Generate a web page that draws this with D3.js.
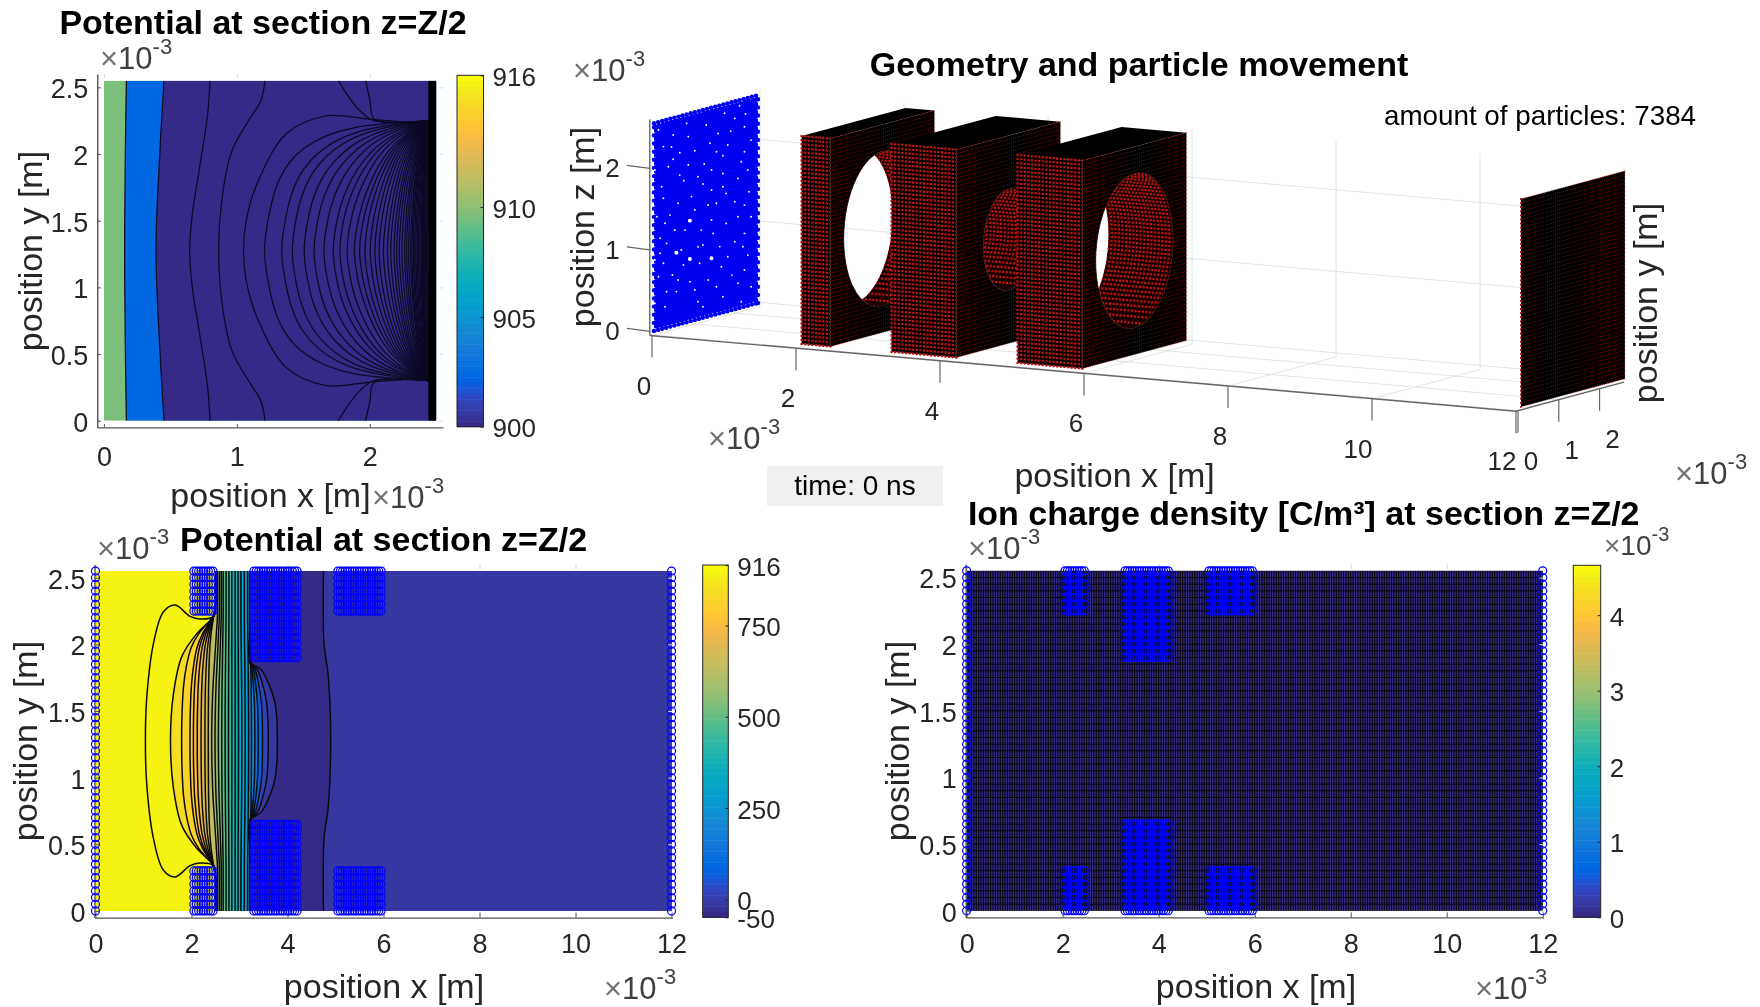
<!DOCTYPE html>
<html>
<head>
<meta charset="utf-8">
<script src="https://cdn.jsdelivr.net/npm/d3@7"></script>
<style>
  body { margin: 0; background: #fff; }
  svg { display: block; font-family: "Liberation Sans", Arial, sans-serif; filter: blur(0.45px); }
</style>
</head>
<body>
<svg id="chart" width="1760" height="1007"></svg>
<script>
// colormap
const parula = [[.2081,.1663,.5292],[.2116,.1898,.5777],[.2123,.2138,.6270],[.2081,.2386,.6771],[.1959,.2645,.7279],[.1707,.2919,.7792],[.1253,.3242,.8303],[.0591,.3598,.8683],[.0117,.3875,.8820],[.0060,.4086,.8828],[.0165,.4266,.8786],[.0329,.4430,.8720],[.0498,.4586,.8641],[.0629,.4737,.8554],[.0723,.4887,.8467],[.0779,.5040,.8384],[.0793,.5200,.8312],[.0749,.5375,.8263],[.0641,.5570,.8240],[.0488,.5772,.8228],[.0343,.5966,.8199],[.0265,.6137,.8135],[.0239,.6287,.8038],[.0231,.6418,.7913],[.0228,.6535,.7768],[.0267,.6642,.7607],[.0384,.6743,.7436],[.0590,.6838,.7254],[.0843,.6928,.7062],[.1133,.7015,.6859],[.1453,.7098,.6646],[.1801,.7177,.6424],[.2178,.7250,.6193],[.2586,.7317,.5954],[.3022,.7376,.5712],[.3482,.7424,.5473],[.3953,.7459,.5244],[.4420,.7481,.5033],[.4871,.7491,.4840],[.5300,.7491,.4661],[.5709,.7485,.4494],[.6099,.7473,.4337],[.6473,.7456,.4188],[.6834,.7435,.4044],[.7184,.7411,.3905],[.7525,.7384,.3768],[.7858,.7356,.3633],[.8185,.7327,.3498],[.8507,.7299,.3360],[.8824,.7274,.3217],[.9139,.7258,.3063],[.9450,.7261,.2886],[.9739,.7314,.2666],[.9938,.7455,.2403],[.9990,.7653,.2164],[.9955,.7861,.1967],[.9880,.8066,.1794],[.9789,.8271,.1633],[.9697,.8481,.1475],[.9626,.8705,.1309],[.9589,.8949,.1132],[.9598,.9218,.0948],[.9661,.9514,.0755],[.9763,.9831,.0538]];

// tick labels
const ticksAperture = [0, 1, 2];
const ticksY = [0, 0.5, 1, 1.5, 2, 2.5];
const ticksLong = [0, 2, 4, 6, 8, 10, 12];
const ticksZ3d = [0, 1, 2];
const ticksY3d = [0, 1, 2];
const colorTicksTop = [900, 905, 910, 916];
const colorTicksPot = [-50, 0, 250, 500, 750, 916];
const colorTicksRho = [0, 1, 2, 3, 4];

// geometry, in units of 1e-3 m
const Y_MAX = 2.55;
const electrodeStart = [2.05, 3.3, 5.05];
const electrodeEnd = [2.45, 4.2, 5.95];
const electrodeGapLow = [0.3, 0.65, 0.3];
const electrodeGapHigh = [2.25, 1.9, 2.25];
const holeRadius = [0.95, 0.62, 0.95];

// potential near the first aperture, contours read top half, top -> apex
const apertureContours = [
  [[.169,2.55],[.16,1.9],[.156,1.275]],
  [[.452,2.55],[.42,2.0],[.392,1.275]],
  [[.798,2.55],[.78,2.3],[.72,1.9],[.665,1.55],[.645,1.275]],
  [[1.212,2.55],[1.18,2.4],[1.1,2.27],[.965,2.03],[.9,1.75],[.863,1.275]],
  [[2.44,2.25],[2.31,2.24],[2.01,2.26],[1.664,2.285],[1.37,2.15],[1.153,1.78],[1.07,1.5],[1.05,1.275]]
];
const apertureBase = 909.6;
const apertureBandLevels = [902.4, 900];
const apertureElectrodeLines = [
  [[1.763,2.55],[1.84,2.43],[1.92,2.33],[2.03,2.25],[2.44,2.25]],
  [[1.968,2.55],[2.0,2.405],[2.035,2.26],[2.44,2.25]]
];
const apertureApex = [1.2,1.33,1.41,1.5,1.575,1.65,1.72,1.77,1.825,1.88,1.92,1.96,2.0,2.035,2.067,2.1,2.13,2.155,2.18,2.2,2.22,2.24,2.26,2.275,2.29,2.305,2.315,2.325,2.335,2.345,2.355,2.365,2.375,2.385,2.39,2.395,2.4,2.405,2.41,2.415,2.42,2.425,2.43,2.435];
const fanU = [0,.02,.07,.15,.25,.38,.54,.75,1];
const fanOuterV = [0,.2,.5,.68,.8,.89,.95,.98,1];
const fanInnerV = [0,.12,.27,.42,.56,.7,.82,.92,1];

// potential along the whole channel
const lobeContour = [[2.52,2.55],[2.5,2.3],[2.46,2.21],[2.18,2.19],[1.97,2.21],[1.66,2.295],[1.417,2.245],[1.21,2.01],[1.07,1.61],[1.04,1.275]];
const secondContour = [[2.52,2.55],[2.5,2.3],[2.46,2.21],[2.11,2.08],[1.8,1.91],[1.625,1.63],[1.5625,1.275]];
const farContour = [[4.75,2.55],[4.76,2.01],[4.85,1.76],[4.9,1.275]];
const lensLeftApex = [1.795,1.969,2.04,2.12,2.2,2.28,2.35];
const lensLeftU = [0,.01,.06,.15,.3,.53,.75,1];
const lensLeftV = [0,.2,.44,.6,.75,.86,.93,1];
const channelApex = [2.42,2.49,2.56,2.63,2.7,2.77,2.84,2.91,2.98,3.05,3.12,3.19,3.25];
const channelTop = [2.54,2.58,2.62,2.66,2.72,2.78,2.84,2.91,2.97,3.03,3.1,3.17,3.22];
const channelRows = [2.55,2.21,2.1,1.9,1.7,1.5,1.275];
const channelWeight = [1,1,.85,.55,.25,.08,0];
const lensRightApex = [3.32,3.39,3.48,3.6,3.79];
const lensRightU = [0,.09,.33,.6,1];
const lensRightV = [0,.48,.73,.9,1];
const potentialBase = 905;
const potentialLevels = [895,860,825,790,760,730,700,670,640,605,570,535,500,465,430,395,360,325,290,255,220,185,130,70,10,-25,-50,-25];

// gaps in the particle sheet as [y, z]
const particleGapsLarge = [[.88,1.234],[.55,.886],[.88,.764],[1.41,.702]];
const particleGapsSmall = [[.15,1.117],[1.23,1.883],[1.69,1.923],[2.1,2.482],[.47,2.341],[.63,2.102],[1,2.077],[.47,2.043],[1.88,2.2],[1.98,2.342],[2.24,2.361],[1.98,1.319],[2.33,1.395],[.63,1.828],[1.08,1.747],[.73,1.746],[.19,1.745],[.23,1.597],[1.2,1.642],[.39,1.37],[.51,1.171],[1.2,.893],[.31,1.033],[2.18,.74],[2.3,.622],[1.77,1.082],[1.98,.828],[.45,.626],[.88,.486],[1.91,.429],[.31,.44],[.55,.409],[1.08,.214],[1.2,.136],[2.14,.071],[1.53,1.994],[2.22,1.9],[2.06,1.595],[1.53,1.361],[1,1.35],[.76,1.136],[1.45,1.002],[1.81,.666],[1.33,.447],[.11,.652],[.15,.934],[.8,2.44],[1.28,2.355],[.43,2.2],[1.69,1.705],[1.41,1.54],[2.38,2.022],
  [.02,.338],[.27,.261],[.59,.546],[.72,.714],[1,.368],[1.53,.337],[1.69,.193],[2.06,.308],[2.38,.222],[2.22,.449],[1.65,.566],[1.12,.68],[.23,.8],[.02,.869],[.67,.903],[1.08,.889],[1.61,.819],[2.22,.899],[2.38,1.081],[2.06,1.124],[1.41,1.172],[1.16,1.082],[.27,1.285],[.07,1.393],[.59,1.487],[.92,1.525],[1.33,1.367],[1.77,1.45],[2.22,1.246],[1.69,1.543],[.02,1.973],[.35,1.968],[.84,1.924],[1.41,1.785],[2.3,1.665],[2.14,1.789],[1.81,2.038],[1.37,2.118],[.84,2.272],[.23,2.231],[.11,2.452],[1.57,2.213],[2.22,2.207],[1.73,2.438]];

const INK = "#262626";
const svg = d3.select("#chart");
const parulaColor = t => {
  const c = parula[Math.max(0, Math.min(63, Math.round(t * 63)))];
  return d3.rgb(c[0] * 255, c[1] * 255, c[2] * 255).formatHex();
};

function addText(x, y, str, size, opts = {}) {
  const t = svg.append("text")
    .attr("x", x).attr("y", y)
    .attr("font-size", size)
    .attr("text-anchor", opts.anchor || "middle")
    .attr("dominant-baseline", "central")
    .attr("fill", opts.fill || INK)
    .text(str);
  if (opts.bold) t.attr("font-weight", "bold");
  if (opts.rotate) t.attr("transform", `rotate(${opts.rotate},${x},${y})`);
  return t;
}
const addTitle = (x, y, str) => addText(x, y, str, 34, { bold: true, fill: "#000" });
const addLabel = (x, y, str, rotate) => addText(x, y, str, 34, { rotate });

// the little x10^-3 tag matlab puts on axes
function addExponent(x, y, size = 31) {
  const t = svg.append("text").attr("x", x).attr("y", y)
    .attr("font-size", size).attr("dominant-baseline", "central").attr("fill", "#404040");
  t.append("tspan").text("×").attr("fill", "#707070");
  t.append("tspan").text("10");
  t.append("tspan").text("-3").attr("font-size", size * 0.71).attr("dy", -size * 0.39);
}

function styleAxis(g, color, size, labelShift = 0) {
  g.select(".domain").attr("stroke", color).attr("stroke-width", 1.4);
  g.selectAll(".tick line").attr("stroke", color);
  g.selectAll(".tick text").attr("fill", INK).attr("font-size", size)
    .attr("transform", `translate(0,${labelShift})`);
  g.attr("font-family", null);
}

function drawAxes(x, y, xTicks, yTicks, tick, xPad = 16) {
  const top = y.range()[1], right = x.range()[1], left = x.range()[0], bottom = y.range()[0];
  svg.append("g").attr("transform", `translate(0,${top})`)
    .call(d3.axisBottom(x).tickValues(xTicks).tickSize(tick).tickFormat(""))
    .call(g => g.select(".domain").remove())
    .call(g => g.selectAll("line").attr("stroke", "#d8d8d8"));
  svg.append("g").attr("transform", `translate(${right},0)`)
    .call(d3.axisRight(y).tickValues(yTicks).tickSize(-tick).tickFormat(""))
    .call(g => g.select(".domain").remove())
    .call(g => g.selectAll("line").attr("stroke", "#d8d8d8"));
  const gx = svg.append("g").attr("transform", `translate(0,${bottom})`)
    .call(d3.axisBottom(x).tickValues(xTicks).tickFormat(String).tickSizeInner(-tick).tickSizeOuter(0).tickPadding(xPad));
  const gy = svg.append("g").attr("transform", `translate(${left},0)`)
    .call(d3.axisLeft(y).tickValues(yTicks).tickFormat(String).tickSizeInner(-tick).tickSizeOuter(0).tickPadding(9));
  styleAxis(gx, "#555", 27);
  styleAxis(gy, "#555", 27, 1.8);
}

function drawColorbar(x0, x1, scale, ticks) {
  const [lo, hi] = scale.domain();
  const step = (hi - lo) / parula.length;
  const g = svg.append("g");
  g.selectAll("rect").data(parula).enter().append("rect")
    .attr("x", x0).attr("width", x1 - x0)
    .attr("y", (d, i) => scale(lo + (i + 1) * step))
    .attr("height", Math.abs(scale(lo) - scale(lo + step)) + 0.5)
    .attr("fill", (d, i) => parulaColor(i / 63));
  g.append("rect").attr("x", x0).attr("y", scale(hi))
    .attr("width", x1 - x0).attr("height", scale(lo) - scale(hi))
    .attr("fill", "none").attr("stroke", INK).attr("stroke-width", 1);
  const ax = svg.append("g").attr("transform", `translate(${x1},0)`)
    .call(d3.axisRight(scale).tickValues(ticks).tickFormat(String).tickSizeInner(-3).tickSizeOuter(0).tickPadding(9));
  ax.select(".domain").remove();
  styleAxis(ax, INK, 26, 1.8);
}

const mirror = half => [...half, ...half.slice(0, -1).reverse().map(([a, b]) => [a, Y_MAX - b])];

function clipField(id, x, y, xMax) {
  svg.append("clipPath").attr("id", id).append("rect")
    .attr("x", x(0)).attr("y", y(Y_MAX))
    .attr("width", x(xMax) - x(0)).attr("height", y(0) - y(Y_MAX));
  return svg.append("g").attr("clip-path", `url(#${id})`);
}

// blue rings on every mesh node of the electrodes and end plates
function drawElectrodeNodes(x, y) {
  const nodes = [];
  electrodeStart.forEach((x0, i) => {
    d3.range(x0, electrodeEnd[i] + 0.01, 0.05).forEach(px => {
      d3.range(0, Y_MAX + 0.01, 0.05).forEach(py => {
        if (py <= electrodeGapLow[i] + 0.01 || py >= electrodeGapHigh[i] - 0.01) nodes.push([px, py]);
      });
    });
  });
  [0, 12].forEach(px => d3.range(0, Y_MAX + 0.01, 0.05).forEach(py => nodes.push([px, py])));
  svg.append("g").selectAll("circle").data(nodes).enter().append("circle")
    .attr("cx", d => x(d[0])).attr("cy", d => y(d[1])).attr("r", 4)
    .attr("fill", "none").attr("stroke", "#0000ff").attr("stroke-width", 1.2);
}

/* ---------- top left: potential at aperture ---------- */
{
  const x = d3.scaleLinear([-0.05, 2.55], [97.25, 443]);
  const y = d3.scaleLinear([-0.05, 2.6], [427.4, 74]);
  const color = d3.scaleLinear([900, 916], [0, 1]);
  const line = d3.line().x(d => x(d[0])).y(d => y(d[1])).curve(d3.curveCatmullRom);
  const smooth = d3.line().x(d => x(d[0])).y(d => y(d[1])).curve(d3.curveBasis);
  const g = clipField("clipA", x, y, 2.5);
  g.append("rect").attr("x", x(0)).attr("y", y(Y_MAX))
    .attr("width", x(2.5) - x(0)).attr("height", y(0) - y(Y_MAX))
    .attr("fill", parulaColor(color(apertureBase)));
  apertureBandLevels.forEach((lvl, i) => {
    g.append("path").attr("fill", parulaColor(color(lvl)))
      .attr("d", line(mirror(apertureContours[i])) + `L${x(2.5)},${y(0)}L${x(2.5)},${y(Y_MAX)}Z`);
  });
  const fanLine = a => {
    const t = Math.max(0, Math.min(1, (a - 1.2) / 0.7));
    const fx = Math.max(2.44, a + 0.04);
    const half = fanU.map((u, i) => [a + u * (fx - a), 1.275 + (fanOuterV[i] * (1 - t) + fanInnerV[i] * t) * 0.975]).reverse();
    return mirror(half);
  };
  const lines = [
    ...apertureContours.map(mirror),
    ...apertureElectrodeLines.map(h => h),
    ...apertureElectrodeLines.map(h => h.map(([a, b]) => [a, Y_MAX - b]))
  ];
  g.append("g").selectAll("path").data(lines).enter().append("path")
    .attr("d", line).attr("fill", "none").attr("stroke", "#0c0a24").attr("stroke-width", 1.25);
  g.append("g").selectAll("path").data(apertureApex.map(fanLine)).enter().append("path")
    .attr("d", smooth).attr("fill", "none").attr("stroke", "#0c0a24").attr("stroke-width", 1.25);
  g.append("rect").attr("x", x(2.44)).attr("y", y(Y_MAX))
    .attr("width", x(2.5) - x(2.44)).attr("height", y(0) - y(Y_MAX)).attr("fill", "#000");

  drawAxes(x, y, ticksAperture, ticksY, 3.5, 19);
  drawColorbar(457, 483.5, d3.scaleLinear([900, 916], [426.7, 75.3]), colorTicksTop);
  addTitle(263, 22, "Potential at section z=Z/2");
  addExponent(100, 58);
  addExponent(372, 497);
  addLabel(270.5, 495, "position x [m]");
  addLabel(30, 251, "position y [m]", -90);
}

/* ---------- bottom left: potential along channel ---------- */
{
  const x = d3.scaleLinear([-0.02, 12.02], [94.5, 672.5]);
  const y = d3.scaleLinear([-0.05, 2.6], [917.6, 564.4]);
  const color = d3.scaleLinear([-50, 916], [0, 1]);
  const line = d3.line().x(d => x(d[0])).y(d => y(d[1])).curve(d3.curveCatmullRom);
  const g = clipField("clipB", x, y, 12);
  g.append("rect").attr("x", x(0)).attr("y", y(Y_MAX))
    .attr("width", x(12) - x(0)).attr("height", y(0) - y(Y_MAX))
    .attr("fill", parulaColor(color(potentialBase)));

  const lensLeft = a => {
    const half = lensLeftU.map((u, i) => [a + u * (2.46 - a), 1.275 + lensLeftV[i] * 0.935]).reverse();
    return mirror([[2.52, 2.55], [2.5, 2.3], ...half]);
  };
  const lensRight = a => {
    const half = lensRightU.map((u, i) => [a - u * (a - 3.22), 1.275 + lensRightV[i] * 0.595]).reverse();
    return mirror([[3.22, 2.55], [3.22, 2.1], ...half]);
  };
  const channelLine = (a, i) => mirror(channelRows.map((r, k) => [a + (channelTop[i] - a) * channelWeight[k], r]));
  const contours = [
    mirror(lobeContour),
    mirror(secondContour),
    ...lensLeftApex.map(lensLeft),
    ...channelApex.map(channelLine),
    ...lensRightApex.map(lensRight),
    mirror(farContour)
  ];
  // painted left to right so every band covers what lies right of its contour
  contours.forEach((pts, i) => {
    g.append("path").attr("fill", parulaColor(color(potentialLevels[i])))
      .attr("d", line(pts) + `L${x(12)},${y(0)}L${x(12)},${y(Y_MAX)}Z`);
  });
  g.append("g").selectAll("path").data(contours).enter().append("path")
    .attr("d", line).attr("fill", "none").attr("stroke", "#0a0a0a").attr("stroke-width", 1.5);

  drawAxes(x, y, ticksLong, ticksY, 5);
  drawElectrodeNodes(x, y);
  drawColorbar(702.7, 728.3, d3.scaleLinear([-50, 916], [917.3, 565]), colorTicksPot);
  addTitle(383.5, 539, "Potential at section z=Z/2");
  addExponent(97, 548);
  addExponent(604, 988);
  addLabel(384, 986, "position x [m]");
  addLabel(25, 741, "position y [m]", -90);
}

/* ---------- bottom right: ion charge density ---------- */
{
  const x = d3.scaleLinear([-0.02, 12.02], [965.7, 1543.7]);
  const y = d3.scaleLinear([-0.05, 2.6], [917.4, 564.2]);
  const g = clipField("clipC", x, y, 12);
  g.append("rect").attr("x", x(0)).attr("y", y(Y_MAX))
    .attr("width", x(12) - x(0)).attr("height", y(0) - y(Y_MAX))
    .attr("fill", parulaColor(0));
  // zero field: the contour plot degenerates to the mesh itself
  g.append("g").selectAll("line").data(d3.range(0, 12.01, 0.05)).enter().append("line")
    .attr("x1", d => x(d)).attr("x2", d => x(d)).attr("y1", y(0)).attr("y2", y(Y_MAX))
    .attr("stroke", "#000").attr("stroke-width", 0.95);
  g.append("g").selectAll("line").data(d3.range(0, Y_MAX + 0.01, 0.05)).enter().append("line")
    .attr("x1", x(0)).attr("x2", x(12)).attr("y1", d => y(d)).attr("y2", d => y(d))
    .attr("stroke", "#000").attr("stroke-width", 1);

  drawAxes(x, y, ticksLong, ticksY, 5);
  drawElectrodeNodes(x, y);
  drawColorbar(1573.3, 1600.7, d3.scaleLinear([0, 4.66], [917.3, 565.3]), colorTicksRho);
  addTitle(1303.7, 512.5, "Ion charge density [C/m³] at section z=Z/2");
  addExponent(968, 548);
  addExponent(1475, 988);
  addExponent(1604, 545, 28);
  addLabel(1256, 986, "position x [m]");
  addLabel(897, 741, "position y [m]", -90);
}

/* ---------- top right: 3d geometry ---------- */
{
  const sxX = d3.scaleLinear([0, 12], [654, 1518]);
  const sxY = d3.scaleLinear([0, 12], [331, 406.6]);
  const syX = d3.scaleLinear([0, 2.55], [0, 104]);
  const syY = d3.scaleLinear([0, 2.55], [0, -28]);
  const szY = d3.scaleLinear([0, 1], [0, -81.5]);
  const project = (px, py, pz) => [sxX(px) + syX(py), sxY(px) + syY(py) + szY(pz)];
  const poly = pts => "M" + pts.map(p => project(...p).map(v => v.toFixed(2)).join(",")).join("L") + "Z";
  const LO = -0.05, YTOP = 2.6, ZTOP = 2.6, PLATE_X = 12.04;
  const mesh = d3.range(0, Y_MAX + 0.01, 0.05);
  const dots = pts => pts.map(p => { const [a, b] = project(...p); return `M${a.toFixed(1)},${b.toFixed(1)}h.01`; }).join("");

  // grid
  const gridLines = [];
  ticksLong.forEach(v => {
    gridLines.push([[v, LO, LO], [v, YTOP, LO]], [[v, YTOP, LO], [v, YTOP, ZTOP]]);
  });
  ticksY3d.forEach(v => {
    gridLines.push([[-0.03, v, LO], [12, v, LO]], [[-0.03, v, LO], [-0.03, v, ZTOP]]);
  });
  ticksZ3d.forEach(v => {
    gridLines.push([[-0.03, YTOP, v], [12, YTOP, v]], [[-0.03, LO, v], [-0.03, YTOP, v]]);
  });
  svg.append("g").selectAll("line").data(gridLines).enter().append("line")
    .attr("x1", d => project(...d[0])[0]).attr("y1", d => project(...d[0])[1])
    .attr("x2", d => project(...d[1])[0]).attr("y2", d => project(...d[1])[1])
    .attr("stroke", "#e4e4e4").attr("stroke-width", 1);

  // axis lines + ticks
  const axisLines = [
    [[-0.03, LO, LO], [12, LO, LO]],
    [[12, LO, LO], [12, YTOP, LO]],
    [[-0.03, LO, LO], [-0.03, LO, ZTOP]]
  ];
  svg.append("g").selectAll("line").data(axisLines).enter().append("line")
    .attr("x1", d => project(...d[0])[0]).attr("y1", d => project(...d[0])[1])
    .attr("x2", d => project(...d[1])[0]).attr("y2", d => project(...d[1])[1])
    .attr("stroke", "#666").attr("stroke-width", 1.4);
  const tickLine = (a, dx, dy) => svg.append("line")
    .attr("x1", a[0]).attr("y1", a[1]).attr("x2", a[0] + dx).attr("y2", a[1] + dy)
    .attr("stroke", "#666").attr("stroke-width", 1.2);
  ticksLong.forEach(v => {
    const p = project(v, LO, LO);
    tickLine(p, 0, 22);
    addText(p[0] - (v < 10 ? 8 : 14), p[1] + 50, v, 26);
  });
  ticksY3d.forEach(v => {
    const p = project(12, v, LO);
    tickLine(p, 0, 22);
    addText(p[0] + 13, p[1] + 50, v, 26);
  });
  ticksZ3d.forEach(v => {
    const p = project(-0.03, LO, v);
    tickLine(p, -23, -3);
    addText(p[0] - 30, p[1], v, 26, { anchor: "end" });
  });

  // particle sheet: solid inside, coarser beads along the rim so the edge stays bumpy
  const sheet = [];
  const inner = mesh.slice(1, -1);
  inner.forEach(py => inner.forEach(pz => sheet.push([0, py, pz])));
  d3.range(0, Y_MAX + 0.01, 0.1).forEach(v => {
    sheet.push([0, v, 0], [0, v, Y_MAX], [0, 0, v], [0, Y_MAX, v]);
  });
  svg.append("path").attr("d", dots(sheet)).attr("fill", "none")
    .attr("stroke", "#0000f0").attr("stroke-width", 4.4).attr("stroke-linecap", "round");
  const gapPath = (list, w) => svg.append("path")
    .attr("d", dots(list.map(([py, pz]) => [0, py, pz]))).attr("fill", "none")
    .attr("stroke", "#fff").attr("stroke-width", w).attr("stroke-linecap", "round");
  gapPath(particleGapsSmall, 1.9);
  gapPath(particleGapsLarge, 4);

  // electrodes, back to front as seen from +x
  const RED = "#b81414";
  const circle = (px, r) => d3.range(0, 361, 6).map(a => {
    const t = a * Math.PI / 180;
    return [px, 1.275 + r * Math.cos(t), 1.275 + r * Math.sin(t)];
  });
  electrodeStart.forEach((lo, i) => {
    const hi = electrodeEnd[i], r = holeRadius[i];
    const xMesh = d3.range(lo, hi + 0.01, 0.05);
    const g = svg.append("g");
    g.append("path").attr("fill", "#000")
      .attr("d", poly([[lo, 0, Y_MAX], [hi, 0, Y_MAX], [hi, Y_MAX, Y_MAX], [lo, Y_MAX, Y_MAX]]));
    g.append("path").attr("fill", "#000")
      .attr("d", poly([[lo, 0, 0], [hi, 0, 0], [hi, 0, Y_MAX], [lo, 0, Y_MAX]]));
    const front = [];
    xMesh.forEach(px => mesh.forEach(pz => front.push([px, 0, pz])));
    g.append("path").attr("d", dots(front)).attr("stroke", RED).attr("stroke-width", 2.3)
      .attr("stroke-linecap", "square").attr("fill", "none");

    // side face with the round hole
    const frontRing = poly(circle(hi, r));
    const backRing = poly(circle(lo, r));
    g.append("path").attr("fill", "#000").attr("fill-rule", "evenodd")
      .attr("d", poly([[hi, 0, 0], [hi, Y_MAX, 0], [hi, Y_MAX, Y_MAX], [hi, 0, Y_MAX]]) + frontRing);
    const side = [];
    mesh.forEach(py => mesh.forEach(pz => {
      if (Math.hypot(py - 1.275, pz - 1.275) > r) side.push([hi, py, pz]);
    }));
    g.append("path").attr("d", dots(side)).attr("stroke", "#a01010").attr("stroke-width", 0.7)
      .attr("stroke-linecap", "square").attr("fill", "none");

    // inside wall of the hole = front ring minus back ring
    const defs = svg.append("defs");
    defs.append("clipPath").attr("id", `ring${i}`).append("path").attr("d", frontRing);
    defs.append("clipPath").attr("id", `wall${i}`).append("path").attr("d", frontRing + backRing)
      .attr("clip-rule", "evenodd");
    const wall = g.append("g").attr("clip-path", `url(#ring${i})`).append("g").attr("clip-path", `url(#wall${i})`);
    wall.append("path").attr("fill", "#1a0000").attr("d", frontRing + backRing).attr("fill-rule", "evenodd");
    const wallDots = [];
    xMesh.forEach(px => mesh.forEach(pz => {
      const dz = pz - 1.275;
      if (Math.abs(dz) < r) wallDots.push([px, 1.275 + Math.sqrt(r * r - dz * dz), pz], [px, 1.275 - Math.sqrt(r * r - dz * dz), pz]);
    }));
    wall.append("path").attr("d", dots(wallDots)).attr("stroke", RED).attr("stroke-width", 2.2)
      .attr("stroke-linecap", "square").attr("fill", "none");
    g.append("path").attr("d", frontRing).attr("fill", "none").attr("stroke", "#120000").attr("stroke-width", 0.8);
  });

  // collector plate
  svg.append("path").attr("fill", "#000")
    .attr("d", poly([[PLATE_X, 0, 0], [PLATE_X, Y_MAX, 0], [PLATE_X, Y_MAX, Y_MAX], [PLATE_X, 0, Y_MAX]]));
  const plate = [];
  mesh.forEach(py => mesh.forEach(pz => plate.push([PLATE_X, py, pz])));
  svg.append("path").attr("d", dots(plate)).attr("stroke", "#a01010").attr("stroke-width", 0.7)
    .attr("stroke-linecap", "square").attr("fill", "none");
  svg.append("path").attr("d", dots(mesh.map(pz => [PLATE_X, 0, pz]))).attr("stroke", RED).attr("stroke-width", 1.8)
    .attr("stroke-linecap", "square").attr("fill", "none");

  addTitle(1139, 64, "Geometry and particle movement");
  addText(1540, 115.5, "amount of particles: 7384", 27.8, { fill: "#000" });
  addExponent(573, 70);
  addExponent(708, 438);
  addExponent(1675, 473);
  addLabel(582, 227, "position z [m]", -90);
  addLabel(1645, 303, "position y [m]", -90);
  addLabel(1114.6, 475, "position x [m]");

  // time annotation box
  svg.append("rect").attr("x", 767).attr("y", 466).attr("width", 176).attr("height", 40).attr("fill", "#f0f0f0");
  addText(855, 485, "time: 0 ns", 28, { fill: "#000" });
}
</script>
</body>
</html>
